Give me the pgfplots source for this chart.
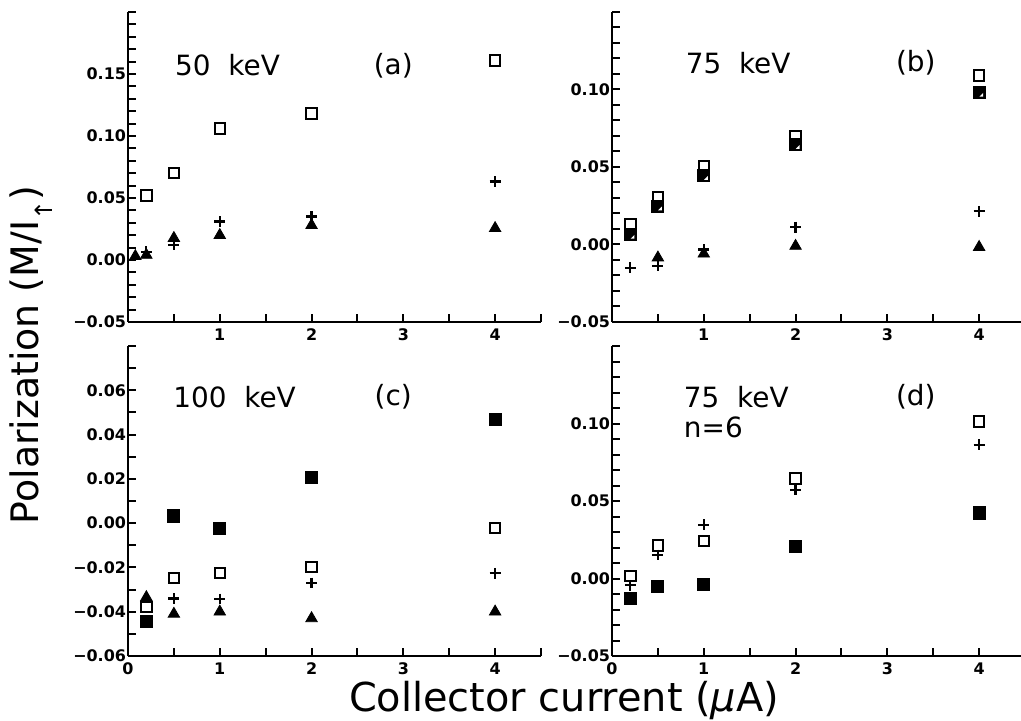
\documentclass[border=0pt]{standalone}
\usepackage{fontspec}
\setmainfont{DejaVu Sans}
\usepackage{pgfplots}
\pgfplotsset{compat=1.18}

\pgfdeclareplotmark{hsq}{%
 \pgfpathrectangle{\pgfqpoint{-\pgfplotmarksize}{-\pgfplotmarksize}}{\pgfqpoint{2\pgfplotmarksize}{2\pgfplotmarksize}}%
 \pgfusepathqfillstroke
 \begin{pgfscope}%
 \pgfsetfillcolor{white}%
 \pgfpathmoveto{\pgfqpoint{0.05\pgfplotmarksize}{-0.7\pgfplotmarksize}}%
 \pgfpathlineto{\pgfqpoint{0.7\pgfplotmarksize}{-0.7\pgfplotmarksize}}%
 \pgfpathlineto{\pgfqpoint{0.7\pgfplotmarksize}{-0.05\pgfplotmarksize}}%
 \pgfpathclose
 \pgfusepathqfill
 \end{pgfscope}%
}

\tikzset{
 lbl/.style={font=\fontsize{14}{14}\selectfont, anchor=west, inner sep=0pt},
 plbl/.style={font=\fontsize{14}{14}\selectfont, inner sep=0pt},
}

\pgfplotsset{
 panel/.style={
  scale only axis, width=206.5bp, height=155bp, anchor=south west,
  axis lines=left, axis line style={-,line width=1.2bp},
  xtick pos=bottom, ytick pos=left,
  xmin=0, xmax=4.5, xtick={0,1,2,3,4}, minor xtick={0.5,1.5,2.5,3.5,4.5},
  scaled ticks=false,
  tick align=inside, major tick length=4bp, minor tick length=4bp,
  every tick/.style={line width=1bp,black},
  ticklabel style={font=\fontsize{8}{8}\selectfont\bfseries},
  yticklabel style={xshift=2.5bp},
  /pgf/number format/assume math mode=true,
  clip=false,
 },
 osq/.style={only marks, mark=square, mark size=2.6bp, mark options={line width=1bp,black}},
 fsq/.style={only marks, mark=square*, mark size=3bp, mark options={line width=0.6bp,black,fill=black}},
 hsqs/.style={only marks, mark=hsq, mark size=2.9bp, mark options={line width=0.6bp,black,fill=black}},
 pls/.style={only marks, mark=+, mark size=2.7bp, mark options={line width=1.1bp,black}},
 tri/.style={only marks, mark=triangle*, mark size=3.3bp, mark options={line width=0.4bp,black,fill=black}},
}

\begin{document}
\begin{tikzpicture}
% ---------------- (a)
\begin{axis}[panel, at={(64bp,199.5bp)},
  ymin=-0.05, ymax=0.20,
  ytick={-0.05,0,0.05,0.10,0.15}, yticklabels={−0.05,0.00,0.05,0.10,0.15},
  minor ytick={-0.04,-0.03,-0.02,-0.01,0.01,0.02,0.03,0.04,0.06,0.07,0.08,0.09,0.11,0.12,0.13,0.14,0.16,0.17,0.18,0.19,0.20},
  xticklabels={,1,2,3,4}]
\addplot[osq] coordinates {(0.2,0.052) (0.5,0.070) (1,0.106) (2,0.118) (4,0.161)};
\addplot[tri] coordinates {(0.08,0.003) (0.2,0.004) (0.5,0.0176) (1,0.020) (2,0.028) (4,0.0256)};
\addplot[pls] coordinates {(0.2,0.0067) (0.5,0.0121) (1,0.031) (2,0.035) (4,0.0633)};
\node[lbl] at (axis cs:0.51,0.157) {50\ \ keV};
\node[plbl] at (axis cs:2.89,0.157) {(a)};
\end{axis}
% ---------------- (b)
\begin{axis}[panel, at={(306bp,199.5bp)},
  ymin=-0.05, ymax=0.15,
  ytick={-0.05,0,0.05,0.10}, yticklabels={−0.05,0.00,0.05,0.10},
  minor ytick={-0.04,-0.03,-0.02,-0.01,0.01,0.02,0.03,0.04,0.06,0.07,0.08,0.09,0.11,0.12,0.13,0.14,0.15},
  xticklabels={,1,2,3,4}]
\addplot[osq] coordinates {(0.2,0.0133) (0.5,0.0305) (1,0.0504) (2,0.0697) (4,0.109)};
\addplot[hsqs] coordinates {(0.2,0.0064) (0.5,0.0247) (1,0.0443) (2,0.0643) (4,0.098)};
\addplot[tri] coordinates {(0.5,-0.0085) (1,-0.006) (2,-0.001) (4,-0.0017)};
\addplot[pls] coordinates {(0.2,-0.015) (0.5,-0.0139) (1,-0.0032) (2,0.0112) (4,0.0215)};
\node[lbl] at (axis cs:0.80,0.117) {75\ \ keV};
\node[plbl] at (axis cs:3.31,0.117) {(b)};
\end{axis}
% ---------------- (c)
\begin{axis}[panel, at={(64bp,32.5bp)},
  ymin=-0.06, ymax=0.08,
  ytick={-0.06,-0.04,-0.02,0,0.02,0.04,0.06}, yticklabels={−0.06,−0.04,−0.02,0.00,0.02,0.04,0.06},
  minor ytick={-0.05,-0.03,-0.01,0.01,0.03,0.05,0.07,0.08},
  xticklabels={0,1,2,3,4}]
\addplot[fsq] coordinates {(0.2,-0.0445) (0.5,0.0032) (1,-0.0023) (2,0.0205) (4,0.0469)};
\addplot[osq] coordinates {(0.2,-0.038) (0.5,-0.0248) (1,-0.0226) (2,-0.0199) (4,-0.0023)};
\addplot[pls] coordinates {(0.5,-0.034) (1,-0.0343) (2,-0.027) (4,-0.0226)};
\addplot[tri] coordinates {(0.2,-0.0335) (0.5,-0.041) (1,-0.040) (2,-0.043) (4,-0.040)};
\node[lbl] at (axis cs:0.49,0.057) {100\ \ keV};
\node[plbl] at (axis cs:2.89,0.057) {(c)};
\end{axis}
% ---------------- (d)
\begin{axis}[panel, at={(306bp,32.5bp)},
  ymin=-0.05, ymax=0.15,
  ytick={-0.05,0,0.05,0.10}, yticklabels={−0.05,0.00,0.05,0.10},
  minor ytick={-0.04,-0.03,-0.02,-0.01,0.01,0.02,0.03,0.04,0.06,0.07,0.08,0.09,0.11,0.12,0.13,0.14,0.15},
  xticklabels={0,1,2,3,4}]
\addplot[osq] coordinates {(0.2,0.0018) (0.5,0.0213) (1,0.0243) (2,0.0644) (4,0.1014)};
\addplot[pls] coordinates {(0.2,-0.0044) (0.5,0.0151) (1,0.0347) (2,0.0573) (4,0.0863)};
\addplot[fsq] coordinates {(0.2,-0.013) (0.5,-0.0054) (1,-0.0039) (2,0.0206) (4,0.0423)};
\node[lbl] at (axis cs:0.78,0.117) {75\ \ keV};
\node[lbl] at (axis cs:0.78,0.0975) {n=6};
\node[plbl] at (axis cs:3.31,0.117) {(d)};
\end{axis}
% labels
\node[rotate=90, font=\fontsize{19}{19}\selectfont] at (15.5bp,183bp) {Polarization\ (M/I\raisebox{-0.35em}{\fontsize{12}{12}\selectfont ↑})};
\node[font=\fontsize{20}{20}\selectfont] at (282bp,10bp) {Collector\ current\ (\textit{μ}A)};
\pgfresetboundingbox
\useasboundingbox (0,0) rectangle (510.5bp,360.5bp);
\end{tikzpicture}
\end{document}
